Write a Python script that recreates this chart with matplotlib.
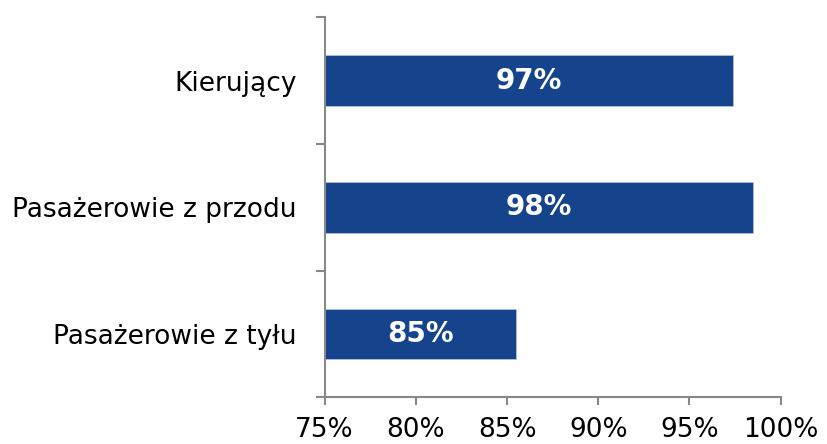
import matplotlib
matplotlib.use('Agg')
import matplotlib.pyplot as plt
from matplotlib.ticker import FixedLocator

categories = ['Kierujący', 'Pasażerowie z przodu', 'Pasażerowie z tyłu']
values = [97.4, 98.5, 85.5]
bar_labels = ['97%', '98%', '85%']
xticks = [75, 80, 85, 90, 95, 100]

plt.rcParams['font.family'] = ['DejaVu Sans']

fig = plt.figure(figsize=(8.27, 4.44), dpi=100)
ax = fig.add_axes([0.3926, 0.105, 0.944 - 0.3926, 0.961 - 0.105])

pos = list(range(len(categories)))
ax.barh(pos, [v - 75 for v in values], left=75, height=0.4, color='#15448C',
        edgecolor='#b0bfd8', linewidth=0.6)
for p, v, t in zip(pos, values, bar_labels):
    ax.text((75 + v) / 2, p, t, ha='center', va='center', color='white',
            fontsize=20, fontweight='bold')

ax.set_xlim(75, 100)
ax.set_ylim(len(categories) - 0.5, -0.5)
ax.set_xticks(xticks)
ax.set_xticklabels([f'{x}%' for x in xticks], fontsize=19)
ax.set_yticks(pos)
ax.set_yticklabels(categories, fontsize=19)
ax.yaxis.set_minor_locator(FixedLocator([-0.5, 0.5, 1.5, 2.5]))
ax.tick_params(axis='y', which='major', length=0, pad=20)
ax.tick_params(axis='y', which='minor', length=6.5, color='#888888', width=1.5)
ax.tick_params(axis='x', length=6, color='#888888', width=1.5, pad=8)

for s in ['top', 'right']:
    ax.spines[s].set_visible(False)
for s in ['left', 'bottom']:
    ax.spines[s].set_color('#888888')
    ax.spines[s].set_linewidth(1.5)

fig.savefig('out.png', dpi=100)
